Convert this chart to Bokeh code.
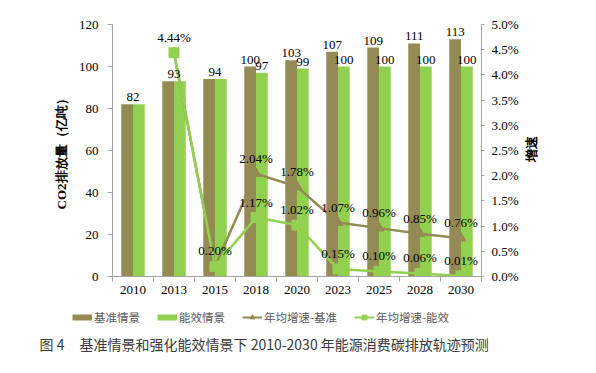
import math
import numpy as np
from bokeh.plotting import figure
from bokeh.layouts import column, row
from bokeh.models import (Range1d, LinearAxis, FixedTicker,
                          Legend, LegendItem, Label)
from bokeh.embed import file_html
from bokeh.resources import INLINE

# ---------------- data ----------------
years = ["2010", "2013", "2015", "2018", "2020", "2023", "2025", "2028", "2030"]
base_vals = [82, 93, 94, 100, 103, 107, 109, 111, 113]
eff_vals = [82, 93, 94, 97, 99, 100, 100, 100, 100]
base_growth = [float("nan"), 4.44, 0.20, 2.04, 1.78, 1.07, 0.96, 0.85, 0.76]
eff_growth = [float("nan"), 4.44, 0.20, 1.17, 1.02, 0.15, 0.10, 0.06, 0.01]
series_names = ["基准情景", "能效情景", "年均增速-基准", "年均增速-能效"]
left_ticks = [0, 20, 40, 60, 80, 100, 120]
right_ticks = [0.0, 0.5, 1.0, 1.5, 2.0, 2.5, 3.0, 3.5, 4.0, 4.5, 5.0]
left_title = "CO2排放量（亿吨）"
right_title = "增速"
caption_num = "图 4"
caption_text = "基准情景和强化能效情景下 2010-2030 年能源消费碳排放轨迹预测"

BROWN = "#948A54"
GREEN = "#92D050"
SERIF = "Times New Roman"
CJK = "Noto Sans CJK SC"
AX = "#A6A6A6"
NAN = float("nan")

TOP_H = 305
LT_W = 70
P_W = 453
RT_W = 67
BOT_H = 63
TOTAL_W = LT_W + P_W + RT_W

n = len(years)
centers = np.arange(n) + 0.5
bw = 1 / 3.5
off = bw / 2


def blank(w, h):
    f = figure(width=w, height=h, output_backend="svg", toolbar_location=None,
               x_range=Range1d(0, w), y_range=Range1d(0, h),
               x_axis_type=None, y_axis_type=None, min_border=0)
    f.outline_line_color = None
    f.grid.visible = False
    return f


# ---------------- main chart ----------------
p = figure(width=P_W, height=TOP_H, output_backend="svg", toolbar_location=None,
           x_range=Range1d(0, n), y_range=Range1d(0, 120),
           min_border_left=42, min_border_right=42, min_border_top=24, min_border_bottom=29)
p.outline_line_color = None
p.grid.visible = False
p.extra_y_ranges = {"pct": Range1d(0, 5.0)}

p.vbar(x=[c - off for c in centers], top=base_vals, width=bw, fill_color=BROWN, line_color=None)
p.vbar(x=[c + off for c in centers], top=eff_vals, width=bw, fill_color=GREEN, line_color=None)

p.line(x=centers, y=base_growth, y_range_name="pct", line_color=BROWN, line_width=2.5)
p.scatter(x=centers, y=base_growth, y_range_name="pct", marker="triangle", size=10,
          fill_color=BROWN, line_color=BROWN)
p.line(x=centers, y=eff_growth, y_range_name="pct", line_color=GREEN, line_width=2.5)
p.scatter(x=centers, y=eff_growth, y_range_name="pct", marker="square", size=10,
          fill_color=GREEN, line_color=GREEN)

# bar value labels (one label when both bars are equal)
bx, by, bt = [], [], []
for c, b, e in zip(centers, base_vals, eff_vals):
    if b == e:
        bx.append(c); by.append(b); bt.append(str(b))
    else:
        bx.append(c - off); by.append(b); bt.append(str(b))
        bx.append(c + off); by.append(e); bt.append(str(e))
p.text(x=bx, y=by, text=bt, text_font={"value": SERIF}, text_font_size="13px",
       text_align="center", text_baseline="bottom", y_offset=-3, text_color="#000000")

# percent labels (one label when both series coincide)
px, py, pt = [], [], []
for c, b, e in zip(centers, base_growth, eff_growth):
    if not math.isnan(b) and b != e:
        px.append(c); py.append(b); pt.append("%.2f%%" % b)
    if not math.isnan(e):
        px.append(c); py.append(e); pt.append("%.2f%%" % e)
p.text(x=px, y=py, y_range_name="pct", text=pt, text_font={"value": SERIF},
       text_font_size="13px", text_align="center", text_baseline="bottom",
       y_offset=-8, text_color="#000000")

xa = p.xaxis[0]
xa.ticker = FixedTicker(ticks=list(centers), minor_ticks=list(range(n + 1)))
xa.major_label_overrides = {float(c): y for c, y in zip(centers, years)}
xa.major_tick_line_color = None
xa.major_tick_out = 5
xa.major_tick_in = 0
xa.minor_tick_line_color = AX
xa.minor_tick_out = 5
xa.minor_tick_in = 0
xa.axis_line_color = AX
xa.major_label_standoff = 4
xa.major_label_text_font = SERIF
xa.major_label_text_font_size = "13px"
xa.major_label_text_color = "#000000"

ya = p.yaxis[0]
ya.ticker = FixedTicker(ticks=left_ticks)
ya.axis_line_color = AX
ya.major_tick_line_color = AX
ya.major_tick_out = 5
ya.major_tick_in = 0
ya.minor_tick_line_color = None
ya.major_label_standoff = 9
ya.major_label_text_font = SERIF
ya.major_label_text_font_size = "13px"
ya.major_label_text_color = "#000000"

ra = LinearAxis(y_range_name="pct", ticker=FixedTicker(ticks=right_ticks))
ra.major_label_overrides = {v: "%.1f%%" % v for v in right_ticks}
ra.axis_line_color = AX
ra.major_tick_line_color = AX
ra.major_tick_out = 3
ra.major_tick_in = 0
ra.minor_tick_line_color = None
ra.major_label_standoff = 7
ra.major_label_text_font = SERIF
ra.major_label_text_font_size = "13px"
ra.major_label_text_color = "#000000"
p.add_layout(ra, "right")

# ---------------- axis titles ----------------
lt = blank(LT_W, TOP_H)
lt.add_layout(Label(x=61, y=TOP_H - 153, text=left_title, angle=math.pi / 2,
                    text_align="center", text_baseline="middle", text_font=SERIF,
                    text_font_size="13px", text_font_style="bold", text_color="#000000"))
rt = blank(RT_W, TOP_H)
rt.add_layout(Label(x=8, y=TOP_H - 151, text=right_title, angle=math.pi / 2,
                    text_align="center", text_baseline="middle", text_font=SERIF,
                    text_font_size="13px", text_font_style="bold", text_color="#000000"))

# ---------------- legend + caption ----------------
bt_fig = blank(TOTAL_W, BOT_H)
r1 = bt_fig.line(x=[NAN], y=[NAN], line_color=BROWN, line_width=6)
r2 = bt_fig.line(x=[NAN], y=[NAN], line_color=GREEN, line_width=6)
r3l = bt_fig.line(x=[NAN], y=[NAN], line_color=BROWN, line_width=2)
r3m = bt_fig.scatter(x=[NAN], y=[NAN], marker="triangle", size=8, fill_color=BROWN, line_color=BROWN)
r4l = bt_fig.line(x=[NAN], y=[NAN], line_color=GREEN, line_width=2)
r4m = bt_fig.scatter(x=[NAN], y=[NAN], marker="square", size=7, fill_color=GREEN, line_color=GREEN)
legend = Legend(items=[
    LegendItem(label=series_names[0], renderers=[r1]),
    LegendItem(label=series_names[1], renderers=[r2]),
    LegendItem(label=series_names[2], renderers=[r3l, r3m]),
    LegendItem(label=series_names[3], renderers=[r4l, r4m]),
], orientation="horizontal", location=(72, BOT_H - 20), padding=0, margin=0, spacing=17,
    glyph_width=20, glyph_height=12, label_height=12, label_standoff=2,
    label_text_font=CJK, label_text_font_size="11.5px", label_text_color="#595959",
    border_line_color=None, background_fill_alpha=0)
bt_fig.add_layout(legend, "center")
bt_fig.add_layout(Label(x=39, y=BOT_H - 38, text=caption_num, text_align="left",
                        text_baseline="middle", text_font=CJK, text_font_size="14px",
                        text_color="#3a3a3a"))
bt_fig.add_layout(Label(x=79, y=BOT_H - 38, text=caption_text, text_align="left",
                        text_baseline="middle", text_font=CJK, text_font_size="14px",
                        text_color="#3a3a3a"))

layout = column(row(lt, p, rt, spacing=0), bt_fig, spacing=0)
open("out.html", "w").write(file_html(layout, INLINE))
